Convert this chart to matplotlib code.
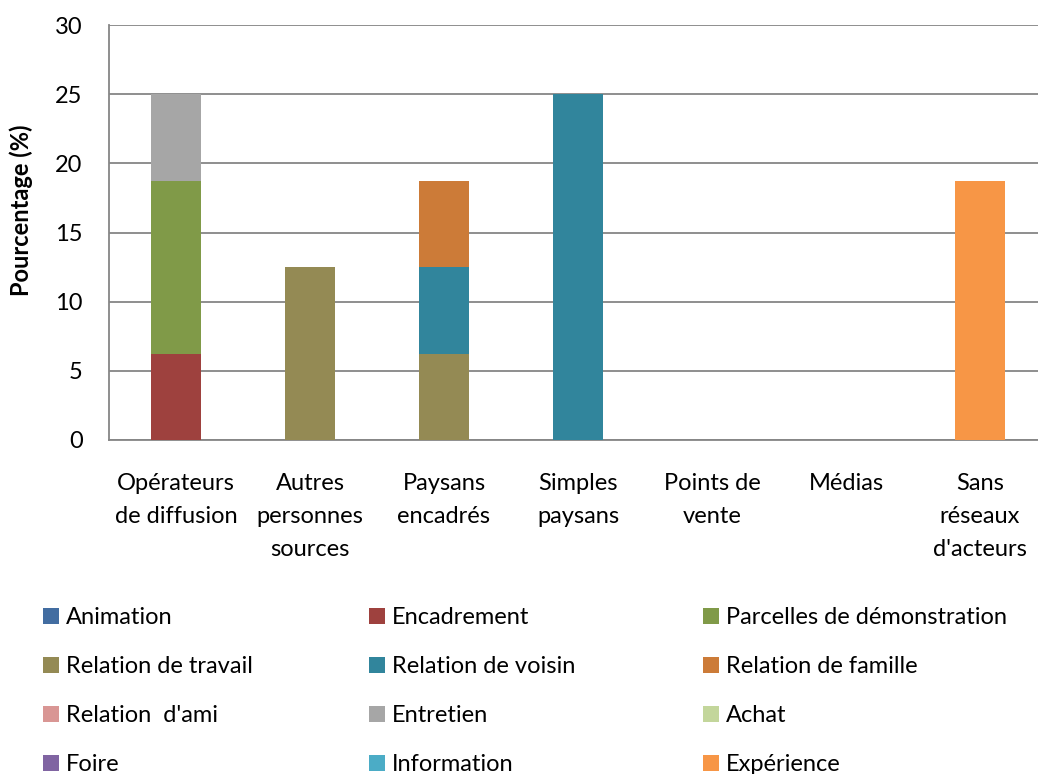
import matplotlib
matplotlib.use("Agg")
import matplotlib.pyplot as plt
from matplotlib.patches import Patch
import numpy as np

categories = ["Opérateurs\nde diffusion", "Autres\npersonnes\nsources", "Paysans\nencadrés",
              "Simples\npaysans", "Points de\nvente", "Médias", "Sans\nréseaux\nd'acteurs"]

series_names = ["Animation", "Encadrement", "Parcelles de démonstration",
                "Relation de travail", "Relation de voisin", "Relation de famille",
                "Relation  d'ami", "Entretien", "Achat",
                "Foire", "Information", "Expérience"]

animation = [0, 0, 0, 0, 0, 0, 0]
encadrement = [6.25, 0, 0, 0, 0, 0, 0]
parcelles = [12.5, 0, 0, 0, 0, 0, 0]
rel_travail = [0, 12.5, 6.25, 0, 0, 0, 0]
rel_voisin = [0, 0, 6.25, 25, 0, 0, 0]
rel_famille = [0, 0, 6.25, 0, 0, 0, 0]
rel_ami = [0, 0, 0, 0, 0, 0, 0]
entretien = [6.25, 0, 0, 0, 0, 0, 0]
achat = [0, 0, 0, 0, 0, 0, 0]
foire = [0, 0, 0, 0, 0, 0, 0]
information = [0, 0, 0, 0, 0, 0, 0]
experience = [0, 0, 0, 0, 0, 0, 18.75]

series_values = [animation, encadrement, parcelles, rel_travail, rel_voisin, rel_famille,
                 rel_ami, entretien, achat, foire, information, experience]

colors = ["#426DA1", "#9E413E", "#809A48", "#948A54", "#31859C", "#CC7B38",
          "#D99694", "#A6A6A6", "#C3D69B", "#8064A2", "#4BACC6", "#F79646"]

plt.rcParams['font.family'] = ['Lato', 'DejaVu Sans']

fig = plt.figure(figsize=(10.38, 7.74), dpi=100)
ax = fig.add_axes([109/1038, 1 - 440/774, 938/1038, 415/774])

x = np.arange(len(categories))
bottom = np.zeros(len(categories))
for name, vals, c in zip(series_names, series_values, colors):
    v = np.array(vals, dtype=float)
    ax.bar(x, v, width=0.37, bottom=bottom, color=c, edgecolor='none', zorder=3)
    bottom += v

ax.set_xlim(-0.5, len(categories) - 0.5)
ax.set_ylim(0, 30)
ax.set_yticks([0, 5, 10, 15, 20, 25, 30])
ax.yaxis.grid(True, color='#868686', linewidth=1.3, zorder=0)
ax.set_axisbelow(True)
for s in ['top', 'right']:
    ax.spines[s].set_visible(False)
ax.spines['left'].set_color('#868686')
ax.spines['left'].set_linewidth(1.3)
ax.spines['bottom'].set_color('#868686')
ax.spines['bottom'].set_linewidth(1.3)
ax.tick_params(axis='y', length=0, labelsize=17, pad=19)
ax.tick_params(axis='x', length=0, labelsize=17, pad=24)
ax.set_xticks(x)
ax.set_xticklabels(categories, linespacing=1.7)
ax.set_ylabel("Pourcentage (%)", fontsize=17, fontweight='bold')
ax.yaxis.set_label_coords((33 - 109) / 938, (440 - 210) / 415)

# Legend in three columns, row-wise reading order
col_x = [43/1038, 369/1038, 703/1038]
for ci in range(3):
    idx = [ci + 3 * r for r in range(4)]
    handles = [Patch(facecolor=colors[i], edgecolor='none') for i in idx]
    labels = [series_names[i] for i in idx]
    fig.legend(handles, labels, loc='upper left', bbox_to_anchor=(col_x[ci], 1 - 607/774),
               frameon=False, fontsize=17, handlelength=0.68, handleheight=0.68,
               handletextpad=0.3, labelspacing=1.19, borderaxespad=0, borderpad=0)

fig.savefig("out.png", dpi=100)
